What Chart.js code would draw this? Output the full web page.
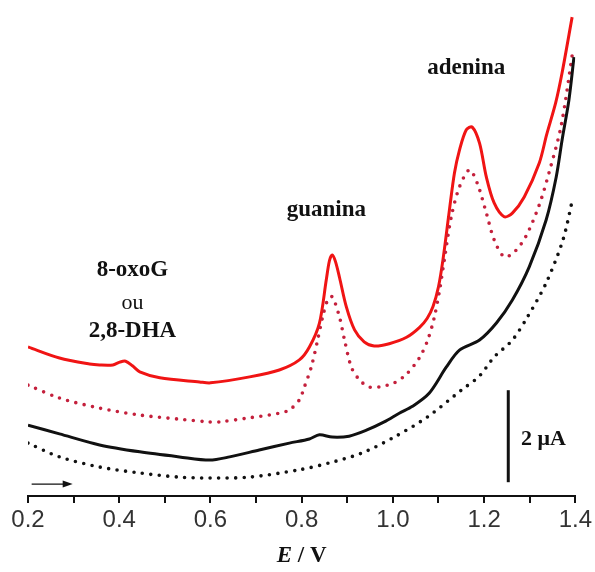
<!DOCTYPE html>
<html lang="pt">
<head>
<meta charset="utf-8">
<title>Voltamogramas DPV</title>
<script src="https://cdn.jsdelivr.net/npm/chart.js@4.4.1/dist/chart.umd.min.js"></script>
<style>
  html, body { margin: 0; padding: 0; background: #fff; }
  #wrap { position: relative; width: 595px; height: 572px; }
</style>
</head>
<body>
<div id="wrap"><canvas id="dpv"></canvas></div>
<script>
"use strict";

// Potential (V) and current (µA, curves offset for clarity) for each scan
const redSolidE = [0.200, 0.269, 0.335, 0.357, 0.386, 0.401, 0.414, 0.429, 0.445, 0.489, 0.576, 0.600,
  0.686, 0.751, 0.795, 0.817, 0.839, 0.854, 0.861, 0.867, 0.874, 0.883, 0.898, 0.916, 0.937, 0.959, 0.992,
  1.030, 1.058, 1.075, 1.088, 1.100, 1.110, 1.124, 1.135, 1.146, 1.161, 1.174, 1.190, 1.205, 1.222, 1.244,
  1.262, 1.288, 1.321, 1.337, 1.357, 1.371, 1.393];
const redSolidI = [3.24, 3.00, 2.87, 2.85, 2.85, 2.91, 2.93, 2.83, 2.70, 2.57, 2.48, 2.46,
  2.59, 2.74, 2.96, 3.24, 3.76, 4.70, 5.12, 5.24, 5.10, 4.75, 4.11, 3.61, 3.35, 3.26, 3.31,
  3.45, 3.66, 3.86, 4.12, 4.55, 5.15, 6.22, 7.02, 7.52, 7.96, 8.02, 7.67, 6.93, 6.37, 6.07,
  6.15, 6.50, 7.24, 7.85, 8.55, 9.20, 10.41];

const redDotE = [0.200, 0.269, 0.357, 0.445, 0.532, 0.598, 0.620, 0.686, 0.751, 0.773, 0.795, 0.806,
  0.821, 0.835, 0.846, 0.857, 0.867, 0.883, 0.894, 0.909, 0.927, 0.948, 0.970, 1.003, 1.030, 1.058,
  1.076, 1.090, 1.102, 1.113, 1.128, 1.146, 1.168, 1.185, 1.205, 1.222, 1.244, 1.266, 1.292, 1.321,
  1.343, 1.369, 1.395];
const redDotI = [2.41, 2.13, 1.91, 1.76, 1.67, 1.61, 1.61, 1.70, 1.80, 1.87, 2.09, 2.37,
  2.80, 3.39, 3.89, 4.26, 4.33, 3.89, 3.39, 2.80, 2.52, 2.37, 2.37, 2.46, 2.65, 3.00,
  3.38, 3.85, 4.45, 5.15, 6.07, 6.72, 7.09, 6.80, 6.15, 5.57, 5.20, 5.30, 5.65, 6.33,
  7.05, 8.05, 9.70];

const blackSolidE = [0.200, 0.269, 0.357, 0.445, 0.532, 0.598, 0.642, 0.707, 0.773, 0.817, 0.839, 0.867,
  0.904, 0.942, 0.981, 1.014, 1.043, 1.080, 1.117, 1.146, 1.190, 1.227, 1.262, 1.299, 1.336, 1.358,
  1.371, 1.386, 1.397];
const blackSolidI = [1.54, 1.35, 1.11, 0.96, 0.85, 0.78, 0.85, 1.00, 1.15, 1.24, 1.33, 1.28,
  1.30, 1.43, 1.61, 1.80, 1.95, 2.24, 2.80, 3.17, 3.39, 3.76, 4.26, 4.98, 6.00, 6.93,
  7.74, 8.61, 9.54];

const blackDotE = [0.200, 0.269, 0.357, 0.445, 0.532, 0.598, 0.686, 0.795, 0.861, 0.931, 1.003, 1.076,
  1.150, 1.190, 1.222, 1.262, 1.295, 1.336, 1.373, 1.395];
const blackDotI = [1.15, 0.85, 0.63, 0.50, 0.41, 0.39, 0.41, 0.57, 0.72, 0.93, 1.28, 1.72,
  2.30, 2.61, 3.02, 3.39, 3.89, 4.63, 5.57, 6.50];

// x axis: major labels every 0.2 V, minor ticks every 0.1 V
const E_MIN = 0.2, E_MAX = 1.4, E_STEP = 0.1;
const I_MIN = 0, I_MAX = 10.5;

// peak names and other drawn notes, placed in (E, I) units
const peakLabels = [
  { text: "8-oxoG", e: 0.429, i: 4.91, bold: true },
  { text: "ou", e: 0.429, i: 4.20, bold: false },
  { text: "2,8-DHA", e: 0.429, i: 3.59, bold: true },
  { text: "guanina", e: 0.854, i: 6.22, bold: true },
  { text: "adenina", e: 1.161, i: 9.30, bold: true }
];
const scaleBar = { e: 1.253, from: 0.30, to: 2.30, text: "2 \u03bcA", textE: 1.281, textI: 1.24 };
const scanArrow = { from: 0.208, to: 0.298, i: 0.26 };

const zip = (es, is) => es.map((e, k) => ({ x: e, y: is[k] }));

const SERIF = "'Liberation Serif', 'DejaVu Serif', serif";

const notes = {
  id: "notes",
  afterDraw(chart) {
    const { ctx, scales: { x, y } } = chart;
    ctx.save();
    ctx.fillStyle = "#111";
    ctx.strokeStyle = "#111";
    ctx.textAlign = "center";
    ctx.textBaseline = "middle";

    peakLabels.forEach(l => {
      ctx.font = (l.bold ? "bold 23px " : "22px ") + SERIF;
      ctx.fillText(l.text, x.getPixelForValue(l.e), y.getPixelForValue(l.i));
    });

    // 2 µA scale bar
    const bx = x.getPixelForValue(scaleBar.e);
    ctx.lineWidth = 3;
    ctx.beginPath();
    ctx.moveTo(bx, y.getPixelForValue(scaleBar.from));
    ctx.lineTo(bx, y.getPixelForValue(scaleBar.to));
    ctx.stroke();
    ctx.textAlign = "left";
    ctx.font = "bold 22px " + SERIF;
    ctx.fillText(scaleBar.text, x.getPixelForValue(scaleBar.textE), y.getPixelForValue(scaleBar.textI));

    // scan direction arrow
    const ay = y.getPixelForValue(scanArrow.i);
    const ax0 = x.getPixelForValue(scanArrow.from);
    const ax1 = x.getPixelForValue(scanArrow.to);
    ctx.lineWidth = 1.2;
    ctx.beginPath();
    ctx.moveTo(ax0, ay);
    ctx.lineTo(ax1 - 6, ay);
    ctx.stroke();
    ctx.beginPath();
    ctx.moveTo(ax1, ay);
    ctx.lineTo(ax1 - 10, ay - 3.5);
    ctx.lineTo(ax1 - 10, ay + 3.5);
    ctx.closePath();
    ctx.fill();

    // axis title: italic E / V
    const tx = (x.left + x.right) / 2;
    const ty = x.bottom - 16;
    ctx.textAlign = "left";
    ctx.font = "italic bold 23px " + SERIF;
    const wE = ctx.measureText("E").width;
    ctx.font = "bold 23px " + SERIF;
    const wRest = ctx.measureText(" / V").width;
    const start = tx - (wE + wRest) / 2;
    ctx.font = "italic bold 23px " + SERIF;
    ctx.fillText("E", start, ty);
    ctx.font = "bold 23px " + SERIF;
    ctx.fillText(" / V", start + wE, ty);
    ctx.restore();
  }
};

new Chart(document.getElementById("dpv"), {
  type: "line",
  data: {
    datasets: [
      {
        label: "tampão", data: zip(blackDotE, blackDotI),
        borderColor: "#111", borderWidth: 3.6, borderDash: [0, 8.5], borderCapStyle: "round"
      },
      {
        label: "tampão (1º)", data: zip(blackSolidE, blackSolidI),
        borderColor: "#111", borderWidth: 3
      },
      {
        label: "DNA", data: zip(redDotE, redDotI),
        borderColor: "#c4203c", borderWidth: 3.6, borderDash: [0, 8.5], borderCapStyle: "round"
      },
      {
        label: "DNA (1º)", data: zip(redSolidE, redSolidI),
        borderColor: "#f01414", borderWidth: 3
      }
    ]
  },
  options: {
    responsive: true,
    maintainAspectRatio: false,
    animation: false,
    layout: { padding: { top: 13, left: 28, right: 19, bottom: 0 } },
    elements: {
      point: { radius: 0, hoverRadius: 0 },
      line: { tension: 0.3, fill: false, borderJoinStyle: "round" }
    },
    plugins: { legend: { display: false }, tooltip: { enabled: false } },
    scales: {
      x: {
        type: "linear", min: E_MIN, max: E_MAX,
        border: { display: true, color: "#111", width: 2 },
        grid: { drawOnChartArea: false, drawTicks: true, tickLength: 7, color: "#111", lineWidth: 2 },
        ticks: {
          stepSize: E_STEP, autoSkip: false, maxRotation: 0, padding: 3,
          color: "#333",
          font: { family: "'Liberation Sans', Arial, sans-serif", size: 24 },
          callback: v => (Math.round(v * 10) % 2 === 0 ? v.toFixed(1) : "")
        },
        afterFit: scale => { scale.height = 76; }
      },
      y: { type: "linear", display: false, min: I_MIN, max: I_MAX }
    }
  },
  plugins: [notes]
});
</script>
</body>
</html>
